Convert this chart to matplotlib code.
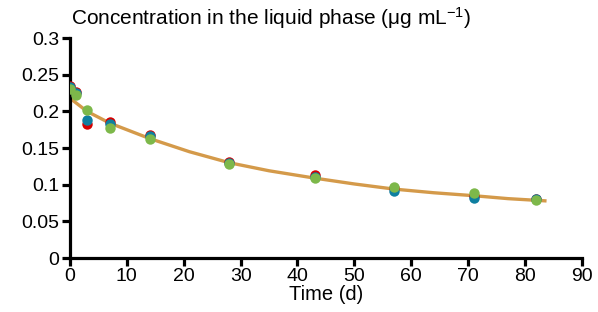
import matplotlib
matplotlib.use("Agg")
import matplotlib.pyplot as plt

plt.rcParams["font.family"] = ["Liberation Sans", "DejaVu Sans"]
plt.rcParams["mathtext.fontset"] = "custom"
plt.rcParams["mathtext.rm"] = "Liberation Sans"
plt.rcParams["mathtext.default"] = "regular"

# sampling times (d)
time_days = [0, 1, 3, 7, 14, 28, 43, 57, 71, 82]

# replicate measurements (ug/mL)
rep_red = [0.235, 0.226, 0.183, 0.185, 0.168, 0.131, 0.113, 0.095, 0.085, 0.081]
rep_teal = [0.233, 0.225, 0.188, 0.183, 0.166, 0.130, 0.111, 0.092, 0.082, 0.080]
rep_green = [0.231, 0.223, 0.202, 0.178, 0.163, 0.128, 0.109, 0.097, 0.089, 0.079]

# fitted curve
fit_t = [0, 3, 7, 14, 21, 28, 35, 43, 50, 57, 64, 71, 77, 83.5]
fit_c = [0.218, 0.200, 0.184, 0.163, 0.145, 0.130, 0.119, 0.109, 0.101,
         0.094, 0.089, 0.085, 0.081, 0.078]

x_ticks = [0, 10, 20, 30, 40, 50, 60, 70, 80, 90]
y_ticks = [0, 0.05, 0.1, 0.15, 0.2, 0.25, 0.3]
y_labels = ["0", "0.05", "0.1", "0.15", "0.2", "0.25", "0.3"]

fig = plt.figure(figsize=(5.98, 3.12), dpi=100)
ax = fig.add_axes([0.117, 0.173, 0.856, 0.705])

ax.plot(fit_t, fit_c, color="#D49A4A", lw=2.4, zorder=2)
for vals, col in [(rep_red, "#D40000"), (rep_teal, "#0E7FA0"), (rep_green, "#7DB84A")]:
    ax.plot(time_days, vals, "o", color=col, ms=7.5, mec="none", zorder=3)

ax.set_xlim(0, 90)
ax.set_ylim(0, 0.3)
ax.set_xticks(x_ticks)
ax.set_yticks(y_ticks)
ax.set_yticklabels(y_labels)
ax.spines["top"].set_visible(False)
ax.spines["right"].set_visible(False)
for s in ("left", "bottom"):
    ax.spines[s].set_linewidth(2.3)
ax.tick_params(direction="out", length=5.5, width=2.3, labelsize=14, pad=2)
ax.set_xlabel("Time (d)", fontsize=14.5, labelpad=0)
ax.text(0.002, 1.03, "Concentration in the liquid phase (μg mL$^{-1}$)",
        transform=ax.transAxes, fontsize=15, ha="left", va="bottom")

fig.savefig("out.png", dpi=100)
